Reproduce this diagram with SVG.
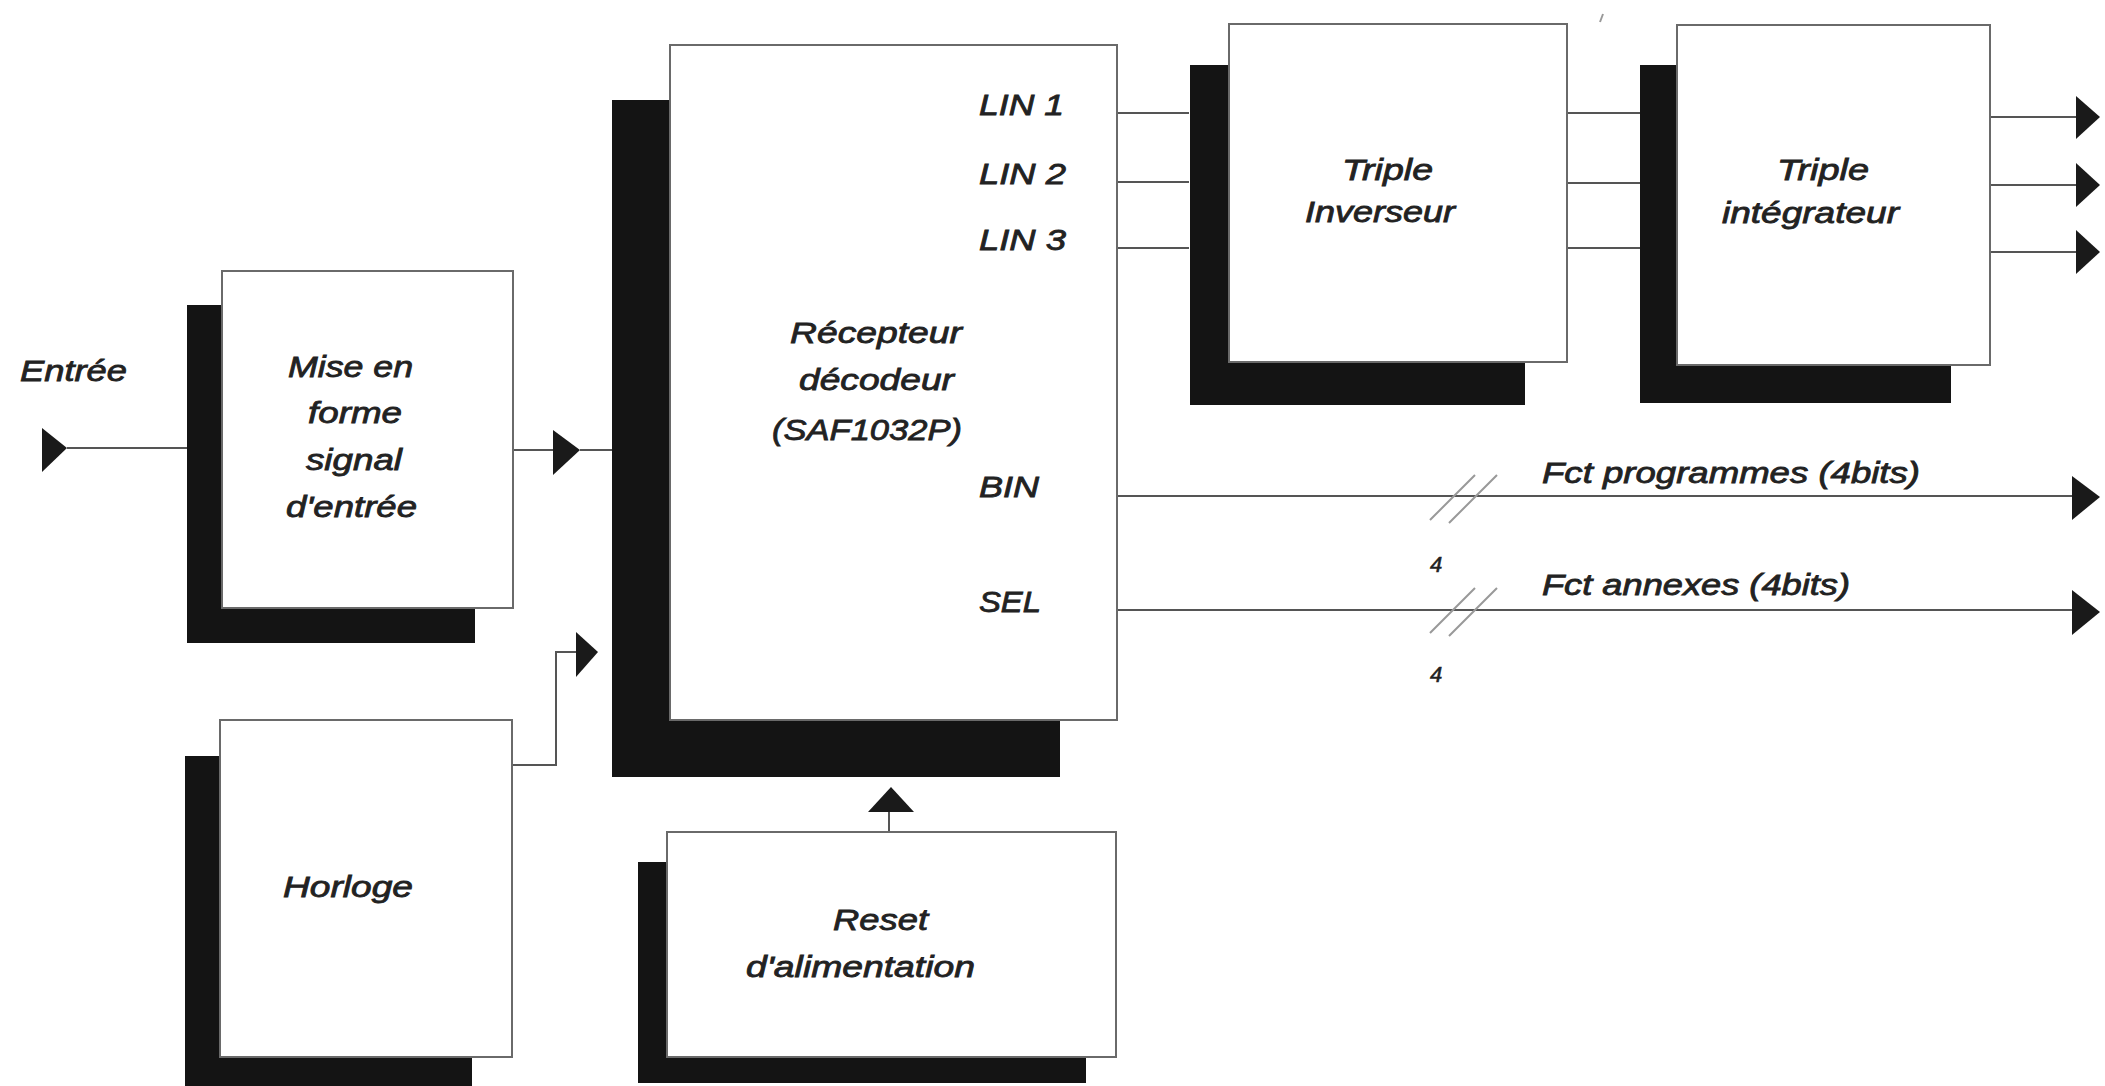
<svg xmlns="http://www.w3.org/2000/svg" width="2105" height="1086" viewBox="0 0 2105 1086">
<style>
.sh{fill:#141414}
.bx{fill:#fff;stroke:#6a6a6a;stroke-width:2}
.t{font-family:"Liberation Sans",Arial,sans-serif;font-style:italic;font-weight:normal;font-size:29px;fill:#222;stroke:#222;stroke-width:0.8}
.s{font-size:22px;stroke-width:0.6}
.w{fill:none;stroke:#555;stroke-width:2}
.sl{fill:none;stroke:#999;stroke-width:2}
.ar{fill:#1a1a1a}
</style>
<rect width="2105" height="1086" fill="#fff"/>
<g id="connectors">
<path class="w" d="M67 448H187"/>
<path class="w" d="M513 450H553M580 450H612"/>
<path class="w" d="M512 765H556V652H576"/>
<path class="w" d="M889 812V832"/>
<path class="w" d="M1118 113H1189M1118 182H1189M1118 248H1189"/>
<path class="w" d="M1567 113H1640M1567 183H1640M1567 248H1640"/>
<path class="w" d="M1990 117H2076M1990 185H2076M1990 252H2076"/>
<path class="w" d="M1117 496H2072M1117 610H2072"/>
<path class="sl" d="M1430 520L1475 475M1449 523L1497 475M1430 633L1475 588M1449 636L1497 588"/>
<path class="sl" d="M1600 22L1603 14"/>
<polygon class="ar" points="42,428 67,448 42,472"/>
<polygon class="ar" points="553,430 580,450 553,475"/>
<polygon class="ar" points="576,632 598,652 576,677"/>
<polygon class="ar" points="868,812 891,787 914,812"/>
<polygon class="ar" points="2076,96 2100,117 2076,139"/>
<polygon class="ar" points="2076,163 2100,185 2076,207"/>
<polygon class="ar" points="2076,230 2100,252 2076,274"/>
<polygon class="ar" points="2072,476 2100,497 2072,520"/>
<polygon class="ar" points="2072,590 2100,612 2072,635"/>
<text class="t" x="20" y="381" textLength="107" lengthAdjust="spacingAndGlyphs">Entrée</text>
<text class="t" x="1542" y="483" font-size="28" textLength="378" lengthAdjust="spacingAndGlyphs">Fct programmes (4bits)</text>
<text class="t" x="1542" y="595" font-size="28" textLength="308" lengthAdjust="spacingAndGlyphs">Fct annexes (4bits)</text>
<text class="t s" x="1430" y="572">4</text>
<text class="t s" x="1430" y="682">4</text>
</g>
<g id="mise">
<rect class="sh" x="187" y="305" width="288" height="338"/>
<rect class="bx" x="222" y="271" width="291" height="337"/>
<text class="t" x="288" y="377" textLength="125" lengthAdjust="spacingAndGlyphs">Mise en</text>
<text class="t" x="308" y="423" textLength="94" lengthAdjust="spacingAndGlyphs">forme</text>
<text class="t" x="306" y="470" textLength="96" lengthAdjust="spacingAndGlyphs">signal</text>
<text class="t" x="286" y="517" textLength="131" lengthAdjust="spacingAndGlyphs">d'entrée</text>
</g>
<g id="horloge">
<rect class="sh" x="185" y="756" width="287" height="334"/>
<rect class="bx" x="220" y="720" width="292" height="337"/>
<text class="t" x="283" y="897" textLength="130" lengthAdjust="spacingAndGlyphs">Horloge</text>
</g>
<g id="recepteur">
<rect class="sh" x="612" y="100" width="448" height="677"/>
<rect class="bx" x="670" y="45" width="447" height="675"/>
<text class="t" x="979" y="115" textLength="85" lengthAdjust="spacingAndGlyphs">LIN 1</text>
<text class="t" x="979" y="184" textLength="87" lengthAdjust="spacingAndGlyphs">LIN 2</text>
<text class="t" x="979" y="250" textLength="87" lengthAdjust="spacingAndGlyphs">LIN 3</text>
<text class="t" x="790" y="343" textLength="172" lengthAdjust="spacingAndGlyphs">Récepteur</text>
<text class="t" x="799" y="390" textLength="155" lengthAdjust="spacingAndGlyphs">décodeur</text>
<text class="t" x="772" y="440" textLength="190" lengthAdjust="spacingAndGlyphs">(SAF1032P)</text>
<text class="t" x="979" y="497" textLength="60" lengthAdjust="spacingAndGlyphs">BIN</text>
<text class="t" x="979" y="612" textLength="62" lengthAdjust="spacingAndGlyphs">SEL</text>
</g>
<g id="reset">
<rect class="sh" x="638" y="862" width="448" height="221"/>
<rect class="bx" x="667" y="832" width="449" height="225"/>
<text class="t" x="833" y="930" textLength="95" lengthAdjust="spacingAndGlyphs">Reset</text>
<text class="t" x="746" y="977" textLength="229" lengthAdjust="spacingAndGlyphs">d'alimentation</text>
</g>
<g id="inverseur">
<rect class="sh" x="1190" y="65" width="335" height="340"/>
<rect class="bx" x="1229" y="24" width="338" height="338"/>
<text class="t" x="1342" y="180" textLength="91" lengthAdjust="spacingAndGlyphs">Triple</text>
<text class="t" x="1305" y="222" textLength="150" lengthAdjust="spacingAndGlyphs">Inverseur</text>
</g>
<g id="integrateur">
<rect class="sh" x="1640" y="65" width="311" height="338"/>
<rect class="bx" x="1677" y="25" width="313" height="340"/>
<text class="t" x="1777" y="180" textLength="92" lengthAdjust="spacingAndGlyphs">Triple</text>
<text class="t" x="1722" y="223" textLength="177" lengthAdjust="spacingAndGlyphs">intégrateur</text>
</g>
</svg>
